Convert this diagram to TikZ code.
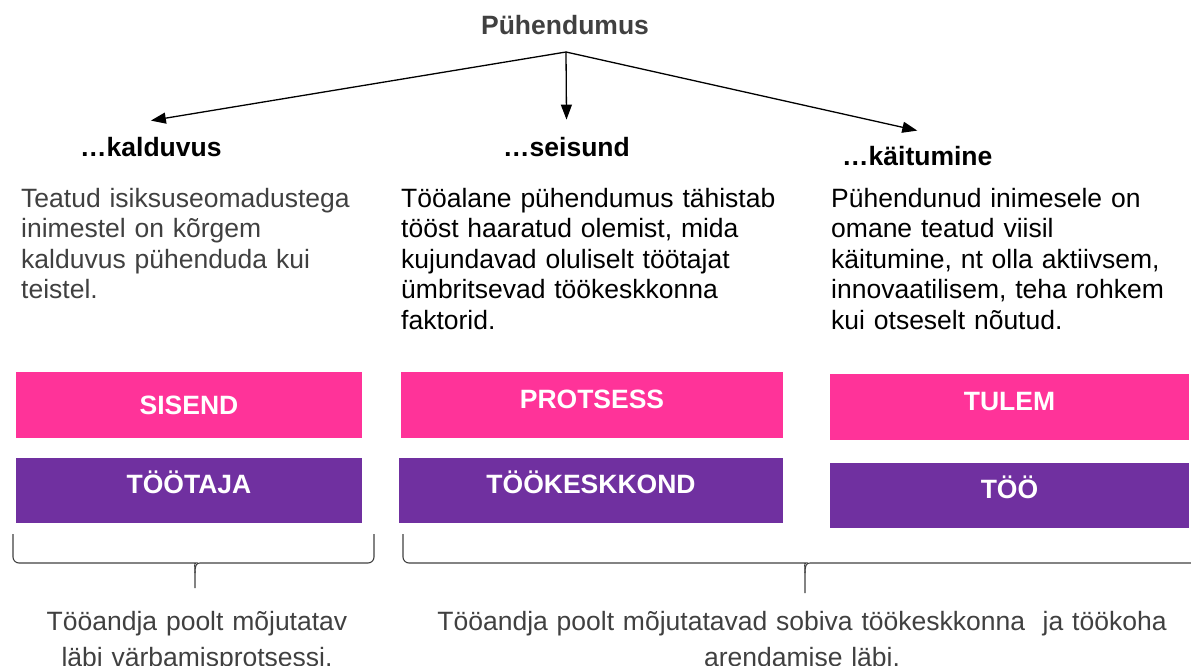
\documentclass[tikz,border=0pt]{standalone}
\usepackage{fontspec}
\setmainfont{Liberation Sans}
\usetikzlibrary{arrows.meta}
\definecolor{roosa}{HTML}{FF3399}
\definecolor{lilla}{HTML}{7030A0}
\definecolor{hall}{HTML}{404040}

\begin{document}
\begin{tikzpicture}[x=1pt,y=-1pt,
    pealkiri/.style={font=\fontsize{26.5}{30}\selectfont\bfseries, inner sep=0pt, anchor=base west},
    tekst/.style={font=\fontsize{26.5}{30.5}\selectfont, inner sep=0pt, anchor=base west, text width=#1, align=left},
    kast/.style={fill=#1, minimum height=66pt, inner sep=0pt, text=white, font=\fontsize{26.5}{30}\selectfont\bfseries},
    ylal/.style={text height=18.6pt, text depth=12pt},
    nool/.style={-{Triangle[length=15pt,width=11pt]}, line width=1.3pt},
    sulg/.style={line width=1.1pt, draw=hall},
    alltekst/.style={font=\fontsize{26.5}{36}\selectfont, text=hall, inner sep=0pt, anchor=base, text width=#1, align=center}]
            \useasboundingbox (0,0) rectangle (1191,666);
            \node[pealkiri, anchor=base, text=hall] (pyh) at (565,35) {Pühendumus};
            \coordinate (algus) at (566,52);
            \node[pealkiri] (kald) at (80,157) {…kalduvus};
            \node[pealkiri] (seis) at (503,157) {…seisund};
            \node[pealkiri] (kait) at (842,165) {…käitumine};
            \draw[nool] (algus) -- ([yshift=17pt]kald.north);
            \draw[nool] (algus) -- ([yshift=18pt]seis.north);
            \draw[nool] (algus) -- ([yshift=15pt]kait.north);
            \node[tekst=360pt, text=hall] (kald tekst) at (21,207) {Teatud isiksuseomadustega\\ inimestel on kõrgem\\ kalduvus pühenduda kui\\ teistel.};
            \node[tekst=400pt] (seis tekst) at (401,207) {Tööalane pühendumus tähistab\\ tööst haaratud olemist, mida\\ kujundavad oluliselt töötajat\\ ümbritsevad töökeskkonna\\ faktorid.};
            \node[tekst=360pt] (kait tekst) at (831,207) {Pühendunud inimesele on\\ omane teatud viisil\\ käitumine, nt olla aktiivsem,\\ innovaatilisem, teha rohkem\\ kui otseselt nõutud.};
            \node[kast=roosa, minimum width=346pt] (sisend) at (189,405) {SISEND};
            \node[kast=roosa, ylal, minimum width=382pt] (protsess) at (592,405) {PROTSESS};
            \node[kast=roosa, ylal, minimum width=359pt] (tulem) at (1009.5,407) {TULEM};
            \node[kast=lilla, ylal, minimum width=346pt, minimum height=65pt] (tootaja) at (189,490) {TÖÖTAJA};
            \node[kast=lilla, ylal, minimum width=384pt, minimum height=65pt] (tookeskkond) at (591,490) {TÖÖKESKKOND};
            \node[kast=lilla, ylal, minimum width=359pt, minimum height=65pt] (too) at (1009.5,495.5) {TÖÖ};
            \draw[sulg] (13,534) [rounded corners=6pt] -- (13,563) -- (190,563) [sharp corners] .. controls (194,563) and (195,566) .. (195,573) -- (195,588);
            \draw[sulg] (195,573) .. controls (195,566) and (196,563) .. (200,563) [rounded corners=6pt] -- (374,563) -- (374,534);
            \draw[sulg] (403,534) [rounded corners=6pt] -- (403,563) -- (800,563) [sharp corners] .. controls (804,563) and (805,566) .. (805,573) -- (805,593);
            \draw[sulg] (805,573) .. controls (805,566) and (806,563) .. (810,563) -- (1200,563);
            \node[alltekst=400pt] (vasak) at (197,630) {Tööandja poolt mõjutatav\\ läbi värbamisprotsessi.};
            \node[alltekst=780pt] (parem) at (802,630) {Tööandja poolt mõjutatavad sobiva töökeskkonna \ ja töökoha\\ arendamise läbi.};
        \end{tikzpicture}
\end{document}
